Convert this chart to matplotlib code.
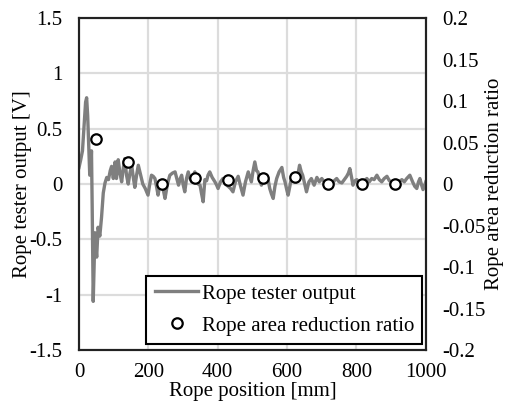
import matplotlib
matplotlib.use("Agg")
import matplotlib.pyplot as plt
from matplotlib.lines import Line2D

plt.rcParams["font.family"] = ["Liberation Serif", "DejaVu Serif"]

# rope tester output [V] vs position [mm]
pos_mm = [0, 5, 10, 15, 19, 22, 25, 28, 31, 34, 36, 38, 41, 44, 46, 48, 51, 55, 60, 65,
          70, 75, 80, 85, 90, 94, 99, 104, 108, 113, 118, 123, 128, 132, 137, 142, 147,
          152, 157, 161, 166, 171, 178, 184, 191, 199, 204, 209, 214, 219, 224, 228, 233,
          238, 243, 248, 255, 262, 270, 277, 282, 287, 292, 296, 300, 305, 310, 315, 320,
          325, 330, 334, 340, 344, 349, 353, 358, 363, 368, 372, 377, 384, 392, 397, 401,
          408, 415, 422, 430, 437, 444, 451, 459, 466, 473, 480, 488, 493, 497, 502, 507,
          512, 516, 521, 526, 533, 541, 546, 550, 555, 560, 565, 570, 577, 585, 590, 594,
          599, 603, 608, 612, 620, 627, 632, 636, 641, 645, 651, 656, 663, 670, 678, 686,
          693, 700, 707, 715, 722, 729, 736, 743, 750, 758, 765, 772, 777, 781, 786, 790,
          796, 801, 808, 816, 823, 830, 837, 844, 851, 859, 866, 873, 880, 888, 895, 902,
          909, 916, 923, 931, 938, 945, 954, 962, 968, 974, 979, 983, 988, 992, 996, 1000]
output_v = [0.15, 0.22, 0.30, 0.55, 0.74, 0.78, 0.62, 0.35, 0.08, 0.12, 0.30, -0.20, -1.06,
            -0.70, -0.44, -0.55, -0.66, -0.39, -0.47, -0.30, -0.08, 0.01, 0.06, 0.04, 0.12,
            0.16, 0.05, 0.20, 0.05, 0.22, 0.10, 0.02, 0.15, 0.23, 0.08, 0.00, 0.10, 0.17,
            0.05, -0.03, 0.08, 0.17, 0.08, 0.00, -0.04, -0.10, 0.00, 0.08, 0.07, 0.05, -0.03,
            -0.10, 0.00, 0.02, -0.05, -0.13, 0.00, 0.08, 0.10, 0.11, 0.05, -0.01, 0.05, 0.08,
            0.00, -0.07, 0.05, 0.11, 0.05, 0.02, 0.08, 0.11, 0.05, 0.00, -0.01, -0.08, -0.16,
            0.04, 0.03, 0.08, 0.11, 0.06, 0.02, -0.01, -0.04, 0.02, 0.05, 0.00, -0.02, -0.04,
            -0.07, 0.02, 0.07, -0.02, -0.10, 0.02, 0.11, 0.06, 0.02, 0.12, 0.20, 0.12, 0.11,
            0.04, -0.01, 0.04, 0.08, 0.03, -0.04, -0.09, -0.13, -0.02, 0.05, 0.11, 0.15, 0.06,
            0.02, -0.05, -0.10, -0.02, 0.05, 0.04, 0.02, 0.10, 0.17, 0.11, 0.08, 0.00, -0.07,
            0.02, 0.05, -0.01, 0.06, 0.02, 0.05, 0.02, 0.01, 0.03, -0.01, 0.03, 0.05, 0.02,
            0.01, 0.04, 0.07, 0.10, 0.14, 0.06, -0.01, 0.03, 0.04, 0.01, -0.01, 0.03, 0.05,
            0.02, 0.05, 0.04, 0.08, 0.04, 0.02, 0.05, 0.07, 0.03, 0.02, -0.01, -0.01, 0.02,
            0.04, 0.02, 0.05, 0.08, 0.02, -0.02, -0.04, 0.02, 0.05, -0.01, -0.05, -0.02, 0.02]

# rope area reduction ratio (right axis)
ratio_pos = [48, 142, 238, 334, 430, 530, 622, 718, 815, 911]
ratio_val = [0.054, 0.027, 0.0, 0.007, 0.005, 0.007, 0.009, 0.0, 0.0, 0.0]

left_ticks = [-1.5, -1, -0.5, 0, 0.5, 1, 1.5]
left_labels = ["-1.5", "-1", "-0.5", "0", "0.5", "1", "1.5"]
right_ticks = [-0.2, -0.15, -0.1, -0.05, 0, 0.05, 0.1, 0.15, 0.2]
right_labels = ["-0.2", "-0.15", "-0.1", "-0.05", "0", "0.05", "0.1", "0.15", "0.2"]
x_ticks = [0, 200, 400, 600, 800, 1000]

fs = 15

fig = plt.figure(figsize=(5.13, 4.01), dpi=100)
ax = fig.add_axes([0.154, 0.127, 0.676, 0.828])
ax2 = ax.twinx()

ax.plot(pos_mm, output_v, color="#7f7f7f", lw=2.4, zorder=3)
ax2.plot(ratio_pos, ratio_val, "o", ms=7.5, mfc="white", mec="black", mew=1.6,
         ls="none", zorder=4)

ax.set_xlim(0, 1000)
ax.set_ylim(-1.5, 1.5)
ax2.set_ylim(-0.2, 0.2)

ax.set_xticks(x_ticks)
ax.set_xticklabels([str(t) for t in x_ticks], fontsize=fs)
ax.set_yticks(left_ticks)
ax.set_yticklabels(left_labels, fontsize=fs)
ax2.set_yticks(right_ticks)
ax2.set_yticklabels(right_labels, fontsize=fs)

ax.tick_params(axis="y", length=0, pad=12)
ax.tick_params(axis="x", length=0, pad=9)
ax2.tick_params(axis="y", length=0, pad=12)

ax.grid(True, color="#dcdcdc", lw=1.6)
ax.set_axisbelow(True)

for a in (ax, ax2):
    for s in a.spines.values():
        s.set_linewidth(1.5)
        s.set_color("#222222")

ax.set_xlabel("Rope position [mm]", fontsize=fs)
ax.xaxis.set_label_coords(0.5, -0.097)
ax.set_ylabel("Rope tester output [V]", fontsize=fs)
ax.yaxis.set_label_coords(-0.135, 0.5)
ax2.set_ylabel("Rope area reduction ratio", fontsize=fs)
ax2.yaxis.set_label_coords(1.17, 0.5)

handles = [
    Line2D([], [], color="#7f7f7f", lw=2.4),
    Line2D([], [], marker="o", ls="none", ms=7.5, mfc="white", mec="black", mew=1.6),
]
leg = ax2.legend(handles, ["Rope tester output", "Rope area reduction ratio"],
                 loc="lower right", bbox_to_anchor=(0.99, 0.018), fontsize=fs,
                 frameon=True, fancybox=False, framealpha=1, edgecolor="black",
                 handlelength=2.1, handletextpad=0.15, borderpad=0.4,
                 labelspacing=0.6, borderaxespad=0)
leg.get_frame().set_linewidth(1.5)

fig.savefig("out.png", dpi=100)
